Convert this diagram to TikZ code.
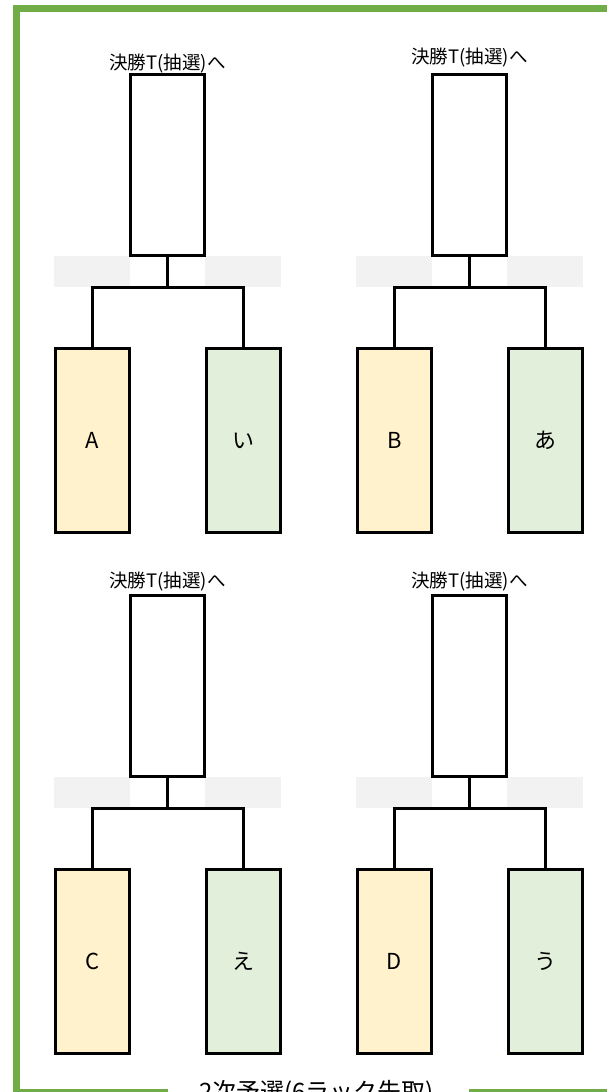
\documentclass[tikz,border=0pt]{standalone}
\usepackage{fontspec}
\newfontfamily\jp{Noto Sans CJK JP}
\definecolor{frameg}{HTML}{70AD47}
\definecolor{yfill}{HTML}{FFF2CC}
\definecolor{gfill}{HTML}{E2EFDA}
\definecolor{bandg}{HTML}{F2F2F2}
\begin{document}
\begin{tikzpicture}[x=1pt,y=-1pt,
  band/.style={fill=bandg},
  winbox/.style={draw, line width=3pt, fill=white, minimum width=74pt, minimum height=181pt, inner sep=0pt},
  teamA/.style={draw, line width=3pt, fill=yfill, minimum width=74pt, minimum height=184pt, inner sep=0pt, font=\jp\fontsize{22}{26}\selectfont},
  teamB/.style={teamA, fill=gfill},
  conn/.style={line width=3pt},
  lbl/.style={font=\jp\fontsize{18.5}{22}\selectfont, inner sep=0pt, anchor=base},
  ttl/.style={font=\jp\fontsize{24}{28}\selectfont, inner sep=0pt, anchor=base},
  frame/.style={draw=frameg, line width=7pt}]
\useasboundingbox (0,0) rectangle (607,1092);
\fill[white] (0,0) rectangle (607,1092);
\foreach \i/\dx/\dy/\la/\lb/\ly in {1/0/0/A/い/69.5, 2/302/0/B/あ/63, 3/0/521/C/え/587, 4/302/521/D/う/587}{
  \fill[band] (54+\dx,256+\dy) rectangle (130+\dx,287+\dy);
  \fill[band] (205+\dx,256+\dy) rectangle (281+\dx,287+\dy);
  \node[winbox] (t\i) at (167.5+\dx,165+\dy) {};
  \node[lbl] (h\i) at (167.5+\dx,\ly) {決勝T(抽選)へ};
  \node[teamA] (a\i) at (92.5+\dx,440.5+\dy) {\la};
  \node[teamB] (b\i) at (243.5+\dx,440.5+\dy) {\lb};
  \coordinate (j\i) at (167.5+\dx,287.5+\dy);
  \draw[conn] (t\i.south) -- (j\i);
  \draw[conn] (a\i.north) |- (j\i) -| (b\i.north);
}
\coordinate (fa) at (607,8.5);
\coordinate (fb) at (16.5,8.5);
\coordinate (fc) at (16.5,1092.5);
\coordinate (fd) at (168,1092.5);
\coordinate (fe) at (469,1092.5);
\coordinate (ff) at (607,1092.5);
\draw[frame] (fa) -- (fb) -- (fc) -- (fd);
\draw[frame] (fe) -- (ff);
\node[ttl] (title) at (316.5,1100) {2次予選(6ラック先取)};
\end{tikzpicture}
\end{document}
